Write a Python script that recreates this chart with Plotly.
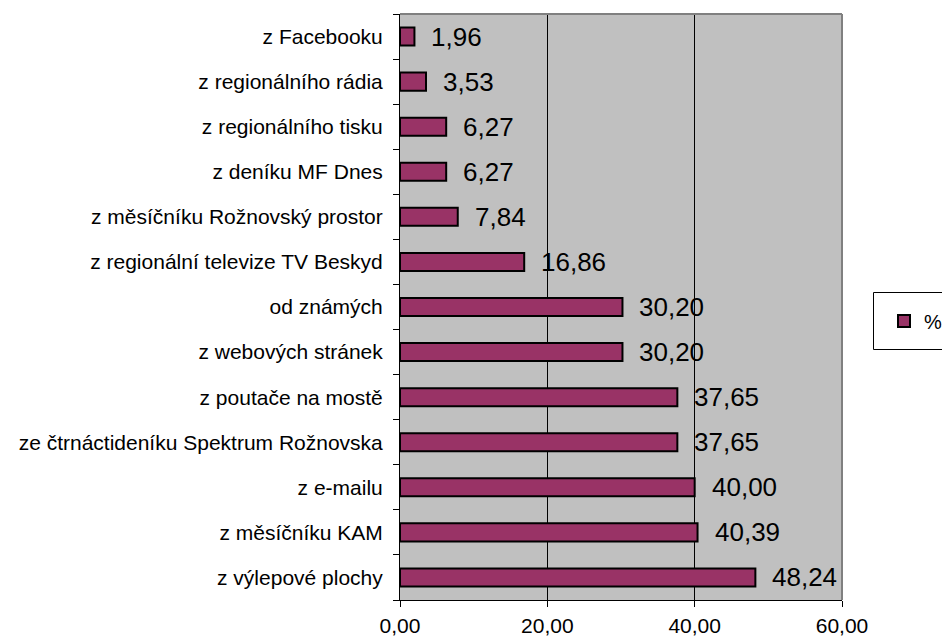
import plotly.graph_objects as go

categories = [
    "z výlepové plochy",
    "z měsíčníku KAM",
    "z e-mailu",
    "ze čtrnáctideníku Spektrum Rožnovska",
    "z poutače na mostě",
    "z webových stránek",
    "od známých",
    "z regionální televize TV Beskyd",
    "z měsíčníku Rožnovský prostor",
    "z deníku MF Dnes",
    "z regionálního tisku",
    "z regionálního rádia",
    "z Facebooku",
]
values = [48.24, 40.39, 40.00, 37.65, 37.65, 30.20, 30.20, 16.86, 7.84, 6.27, 6.27, 3.53, 1.96]
series_name = "%"
x_ticks = [0, 20, 40, 60]

FONT = "Liberation Sans, Arial, sans-serif"
BAR = "#993366"

W, H = 942, 637
L, R, T, B = 400, 842, 14, 600

fig = go.Figure()
fig.add_trace(go.Bar(
    x=values, y=categories, orientation="h", name=series_name,
    marker=dict(color=BAR, line=dict(color="black", width=2)),
    showlegend=True,
))

for v, c in zip(values, categories):
    fig.add_annotation(
        x=v, y=c, xref="x", yref="y", text=f"{v:.2f}".replace(".", ","),
        showarrow=False, xanchor="left", yanchor="middle", xshift=15,
        font=dict(family=FONT, size=26, color="black"),
    )

def px_x(p):
    return (p - L) / (R - L)

def px_y(p):
    return (B - p) / (B - T)

# plot border (top & right, grey)
fig.add_shape(type="line", xref="paper", yref="paper", x0=0, x1=1, y0=1, y1=1,
              line=dict(color="#808080", width=2), layer="above")
fig.add_shape(type="line", xref="paper", yref="paper", x0=1, x1=1, y0=0, y1=1,
              line=dict(color="#808080", width=2), layer="above")
# legend box
fig.add_shape(type="rect", xref="paper", yref="paper",
              x0=px_x(873.5), x1=px_x(960), y0=px_y(349.5), y1=px_y(292.5),
              line=dict(color="black", width=1), fillcolor="white", layer="below")

fig.update_layout(
    width=W, height=H, autosize=False,
    margin=dict(l=L, r=W - R, t=T, b=H - B, pad=0, autoexpand=False),
    paper_bgcolor="white", plot_bgcolor="#C0C0C0",
    separators=", ",
    bargap=0.6,
    font=dict(family=FONT, size=21, color="black"),
    legend=dict(
        x=px_x(884), y=px_y(321), xanchor="left", yanchor="middle",
        bgcolor="rgba(0,0,0,0)", borderwidth=0,
        font=dict(family=FONT, size=20, color="black"),
    ),
    xaxis=dict(
        range=[0, 60], tickvals=x_ticks, tickformat=".2f",
        showgrid=True, gridcolor="black", gridwidth=1, zeroline=False,
        showline=True, linecolor="black", linewidth=1,
        ticks="outside", ticklen=6, tickcolor="black",
        ticklabelstandoff=1, automargin=False,
        tickfont=dict(family=FONT, size=21, color="black"),
        fixedrange=True,
    ),
    yaxis=dict(
        type="category", categoryorder="array", categoryarray=categories,
        showgrid=False, zeroline=False,
        showline=True, linecolor="black", linewidth=1,
        ticks="outside", ticklen=6, tickcolor="black", tickson="boundaries",
        ticklabelstandoff=12, automargin=False,
        tickfont=dict(family=FONT, size=21, color="black"),
        fixedrange=True,
    ),
)

fig.write_html("out.html")
